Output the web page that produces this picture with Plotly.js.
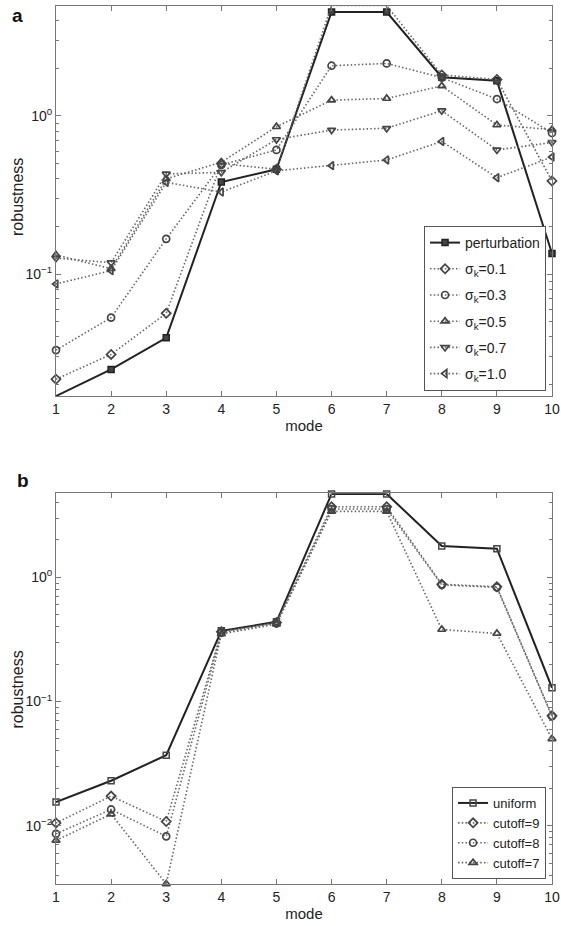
<!DOCTYPE html>
<html>
<head>
<meta charset="utf-8">
<script src="https://cdn.plot.ly/plotly-3.0.1.min.js"></script>
<style>html,body{margin:0;padding:0;background:#fff;}#chart{width:561px;height:926px;}</style>
</head>
<body>
<div id="chart"></div>
<script>
// ---- data ----
var modes = [1, 2, 3, 4, 5, 6, 7, 8, 9, 10];

// panel a
var perturbation = [0.0169, 0.0249, 0.0395, 0.382, 0.46, 4.55, 4.55, 1.76, 1.67, 0.135];
var sigma01 = [0.0216, 0.031, 0.0564, 0.50, 0.46, 5.0, 5.0, 1.82, 1.70, 0.388];
var sigma03 = [0.033, 0.053, 0.167, 0.49, 0.61, 2.08, 2.15, 1.75, 1.28, 0.78];
var sigma05 = [0.132, 0.108, 0.40, 0.51, 0.855, 1.26, 1.29, 1.55, 0.877, 0.82];
var sigma07 = [0.126, 0.118, 0.43, 0.44, 0.71, 0.815, 0.836, 1.08, 0.61, 0.68];
var sigma10 = [0.0865, 0.105, 0.38, 0.33, 0.45, 0.485, 0.527, 0.69, 0.407, 0.55];
var legendA = ['perturbation', 'σ<sub>k</sub>=0.1', 'σ<sub>k</sub>=0.3', 'σ<sub>k</sub>=0.5', 'σ<sub>k</sub>=0.7', 'σ<sub>k</sub>=1.0'];

// panel b
var uniform = [0.0155, 0.023, 0.0369, 0.371, 0.438, 4.7, 4.7, 1.79, 1.70, 0.129];
var cutoff9 = [0.0105, 0.0173, 0.0108, 0.365, 0.432, 3.7, 3.7, 0.88, 0.84, 0.0766];
var cutoff8 = [0.0086, 0.0135, 0.0082, 0.358, 0.426, 3.55, 3.55, 0.87, 0.83, 0.076];
var cutoff7 = [0.0076, 0.0124, 0.0034, 0.35, 0.42, 3.4, 3.4, 0.38, 0.353, 0.050];
var legendB = ['uniform', 'cutoff=9', 'cutoff=8', 'cutoff=7'];

var ytickvals = [0.01, 0.1, 1];
var yticktext = ['10<sup>−2</sup>', '10<sup>−1</sup>', '10<sup>0</sup>'];
var minorDigits = [2, 3, 4, 5, 6, 7, 8, 9];
var decades = [0.001, 0.01, 0.1, 1];

// ---- styling ----
var minorVals = [];
decades.forEach(function (d) { minorDigits.forEach(function (m) { minorVals.push(d * m); }); });

var dark = '#222';
var dotc = '#666';
var gi = 0;
function solid(y, name, sym, xa, ya, lg) {
  gi++;
  return {x: modes, y: y, name: name, type: 'scatter', mode: 'lines+markers',
    xaxis: xa, yaxis: ya, legend: lg, legendgroup: 'g' + gi, cliponaxis: false,
    line: {color: dark, width: 2},
    marker: {symbol: sym, size: 6, color: '#444', line: {color: dark, width: 1.5}}};
}
function dotted(y, name, sym, xa, ya, lg) {
  gi++;
  return {x: modes, y: y, name: name, type: 'scatter', mode: 'lines+markers',
    xaxis: xa, yaxis: ya, legend: lg, legendgroup: 'g' + gi, cliponaxis: false,
    line: {color: dotc, width: 1.6, dash: '1.5px,2.2px'},
    marker: {symbol: sym, size: 7, color: '#444', line: {color: dark, width: 1.7}}};
}

var traces = [
  solid(perturbation, legendA[0], 'square', 'x', 'y', 'legend'),
  dotted(sigma01, legendA[1], 'diamond-open', 'x', 'y', 'legend'),
  dotted(sigma03, legendA[2], 'circle-open', 'x', 'y', 'legend'),
  dotted(sigma05, legendA[3], 'triangle-up-open', 'x', 'y', 'legend'),
  dotted(sigma07, legendA[4], 'triangle-down-open', 'x', 'y', 'legend'),
  dotted(sigma10, legendA[5], 'triangle-left-open', 'x', 'y', 'legend'),
  solid(uniform, legendB[0], 'square-open', 'x2', 'y2', 'legend2'),
  dotted(cutoff9, legendB[1], 'diamond-open', 'x2', 'y2', 'legend2'),
  dotted(cutoff8, legendB[2], 'circle-open', 'x2', 'y2', 'legend2'),
  dotted(cutoff7, legendB[3], 'triangle-up-open', 'x2', 'y2', 'legend2')
];

var font = {family: 'Liberation Sans, Arial, sans-serif', size: 13, color: '#222'};
var axcol = '#777';

function xaxis(anchor) {
  return {anchor: anchor, range: [1, 10], dtick: 1, tick0: 1,
    showline: true, linecolor: axcol, linewidth: 1, mirror: 'ticks',
    ticks: 'inside', ticklen: 5, tickcolor: axcol, showgrid: false, zeroline: false,
    tickfont: {size: 14, color: '#222'},
    title: {text: 'mode', font: {size: 15, color: '#222'}, standoff: 4}};
}
function yaxis(anchor, dom, rng) {
  return {anchor: anchor, domain: dom, type: 'log', range: rng,
    tickmode: 'array', tickvals: ytickvals, ticktext: yticktext,
    showline: true, linecolor: axcol, linewidth: 1, mirror: 'ticks',
    ticks: 'inside', ticklen: 5, tickcolor: axcol, showgrid: false, zeroline: false,
    minor: {tickmode: 'array', tickvals: minorVals, ticks: 'inside', ticklen: 3,
            tickcolor: axcol, showgrid: false},
    tickfont: {size: 14, color: '#222'}};
}

var rngA = [-1.772, 0.696];
var rngB = [-2.47, 0.677];

var layout = {
  width: 561, height: 926,
  margin: {l: 56, r: 9, t: 6, b: 42},
  paper_bgcolor: '#fff', plot_bgcolor: '#fff',
  font: font,
  showlegend: true,
  xaxis: xaxis('y'),
  yaxis: yaxis('x', [0.5558, 1], rngA),
  xaxis2: xaxis('y2'),
  yaxis2: yaxis('x2', [0, 0.445], rngB),
  legend: {x: 0.988, xanchor: 'right', y: 0.5615, yanchor: 'bottom',
    bgcolor: '#fff', bordercolor: '#555', borderwidth: 1,
    font: {size: 14, color: '#222'}, tracegroupgap: 5, itemwidth: 30},
  legend2: {x: 0.988, xanchor: 'right', y: 0.0057, yanchor: 'bottom',
    bgcolor: '#fff', bordercolor: '#555', borderwidth: 1,
    font: {size: 13, color: '#222'}, tracegroupgap: 0, itemwidth: 30},
  annotations: [
    {text: '<b>a</b>', xref: 'paper', yref: 'paper', x: -0.077, y: 0.9897, xanchor: 'center', yanchor: 'middle',
     showarrow: false, font: {size: 19, color: '#111'}},
    {text: '<b>b</b>', xref: 'paper', yref: 'paper', x: -0.067, y: 0.4593, xanchor: 'center', yanchor: 'middle',
     showarrow: false, font: {size: 19, color: '#111'}},
    {text: 'robustness', xref: 'paper', yref: 'paper', x: -0.0766, y: 0.7825, xanchor: 'center', yanchor: 'middle',
     textangle: -90, showarrow: false, font: {size: 16, color: '#222'}},
    {text: 'robustness', xref: 'paper', yref: 'paper', x: -0.0766, y: 0.2215, xanchor: 'center', yanchor: 'middle',
     textangle: -90, showarrow: false, font: {size: 16, color: '#222'}}
  ]
};

Plotly.newPlot('chart', traces, layout, {displayModeBar: false, staticPlot: true});
</script>
</body>
</html>
